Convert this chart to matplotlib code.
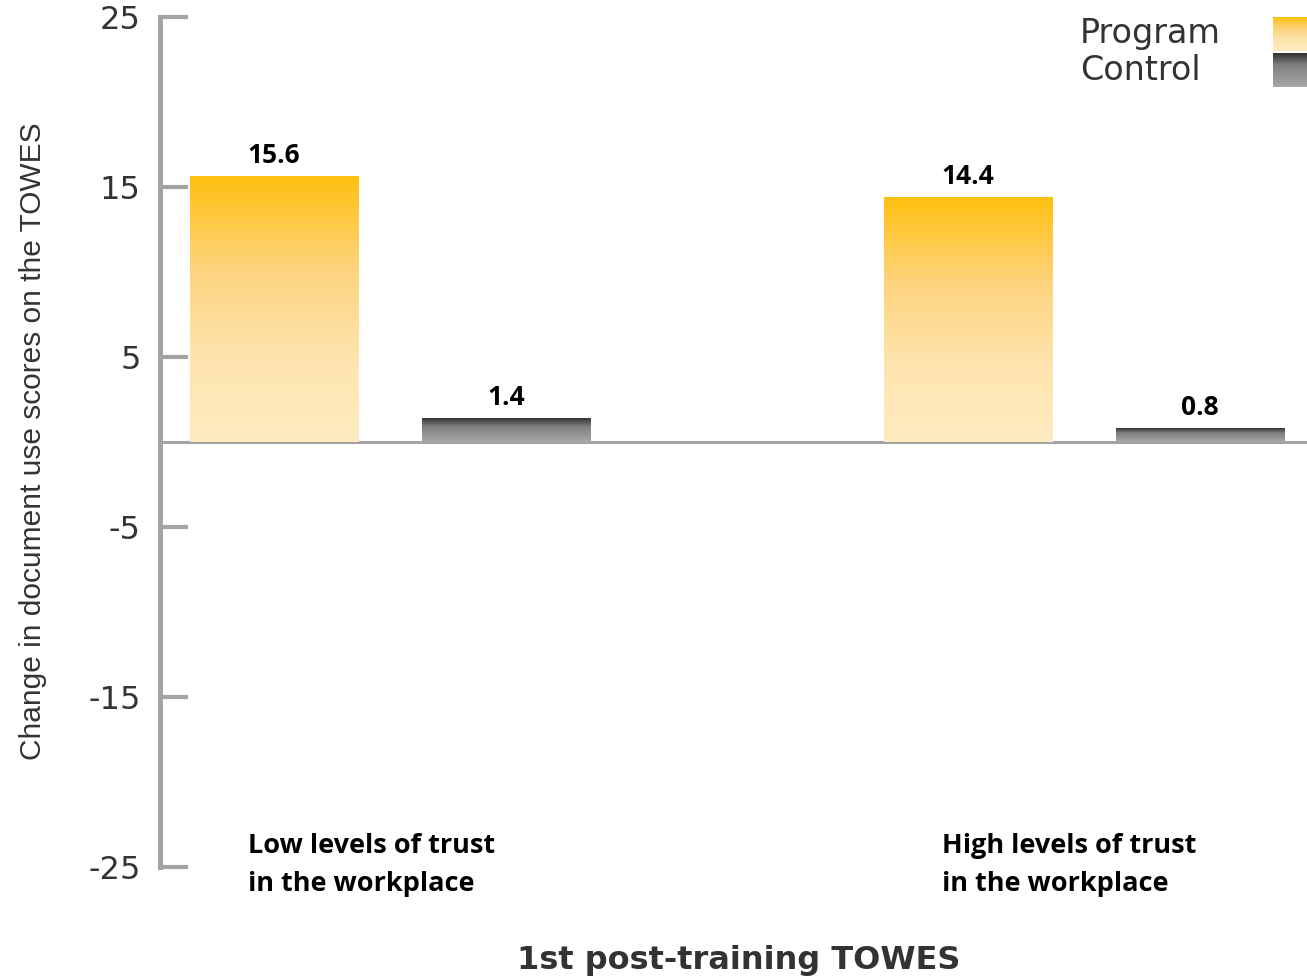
import numpy as np
import matplotlib
matplotlib.use("Agg")
import matplotlib.pyplot as plt
from matplotlib.colors import LinearSegmentedColormap

plt.rcParams["axes.unicode_minus"] = False

# ── Data ──────────────────────────────────────────────────────────────────────
GROUPS    = ["Low levels of trust\nin the workplace",
             "High levels of trust\nin the workplace"]
PROGRAM   = [15.6, 14.4]
CONTROL   = [1.4, 0.8]
SERIES    = ["Program", "Control"]
Y_TICKS   = [-25, -15, -5, 5, 15, 25]
Y_LABEL   = "Change in document use scores on the TOWES"
X_LABEL   = "1st post-training TOWES"

# ── Style ─────────────────────────────────────────────────────────────────────
AXIS_GRAY = "#a3a3a3"
TEXT_GRAY = "#333333"
BAR_W     = 0.242
OFFSET    = 0.167

program_cmap = LinearSegmentedColormap.from_list(
    "program", [(0.0, "#ffc010"), (0.35, "#fdd47e"), (0.7, "#fee5b0"), (1.0, "#ffebc0")])
control_cmap = LinearSegmentedColormap.from_list(
    "control", [(0.0, "#333333"), (0.35, "#7f7f7f"), (1.0, "#a8a8a8")])


def gradient_fill(ax, bar, cmap):
    # paint a vertical gradient inside the rectangle of a bar
    x0, w, h = bar.get_x(), bar.get_width(), bar.get_height()
    grad = np.linspace(0, 1, 256).reshape(-1, 1)
    ax.imshow(grad, extent=[x0, x0 + w, 0, h], origin="upper", cmap=cmap,
              aspect="auto", zorder=3, interpolation="bicubic")
    bar.set_visible(False)


fig = plt.figure(figsize=(13.07, 9.76), dpi=100)
ax = fig.add_axes([160 / 1307, 1 - 867 / 976, 1 - 160 / 1307, 850 / 976])

x = np.arange(len(GROUPS))
prog_bars = ax.bar(x - OFFSET, PROGRAM, BAR_W)
ctrl_bars = ax.bar(x + OFFSET, CONTROL, BAR_W)

for bar in prog_bars:
    gradient_fill(ax, bar, program_cmap)
for bar in ctrl_bars:
    gradient_fill(ax, bar, control_cmap)

# value labels
for bars, vals in ((prog_bars, PROGRAM), (ctrl_bars, CONTROL)):
    for bar, v in zip(bars, vals):
        ax.annotate(f"{v:.1f}", (bar.get_x() + bar.get_width() / 2, v),
                    textcoords="offset points", xytext=(0, 15),
                    ha="center", va="center", fontsize=19, fontweight="bold",
                    family="Open Sans", color="black")

# category labels under the bars
for xi, label in zip(x, GROUPS):
    ax.text(xi - 0.204, -23.0, label, ha="left", va="top", fontsize=19.5,
            fontweight="bold", family="Open Sans", color="black",
            linespacing=1.62)

ax.axhline(0, color=AXIS_GRAY, linewidth=2.2, zorder=2)

ax.set_xlim(-0.331, 1.321)
ax.set_ylim(-25, 25)
ax.set_yticks(Y_TICKS)
ax.set_xticks([])
for side in ("top", "right", "bottom"):
    ax.spines[side].set_visible(False)
ax.spines["left"].set_color(AXIS_GRAY)
ax.spines["left"].set_linewidth(3.6)
ax.tick_params(axis="y", direction="in", length=20, width=3, color=AXIS_GRAY,
               pad=14, labelsize=23, labelcolor=TEXT_GRAY)
for lab in ax.get_yticklabels():
    lab.set_family("DejaVu Sans")

fig.text(33 / 1307, 1 - 441 / 976, Y_LABEL, rotation=90, ha="center",
         va="center", fontsize=21.5, color=TEXT_GRAY, family="Liberation Sans")
fig.text(739 / 1307, 1 - 960 / 976, X_LABEL, ha="center", va="center",
         fontsize=23, fontweight="bold", color=TEXT_GRAY, family="DejaVu Sans")

# legend: text on the left, gradient swatches at the right edge
for i, (name, cmap) in enumerate(zip(SERIES, (program_cmap, control_cmap))):
    yc = 34 + i * 36
    fig.text(1080 / 1307, 1 - yc / 976, name, ha="left", va="center",
             fontsize=24, color=TEXT_GRAY, family="DejaVu Sans")
    sw = fig.add_axes([1273 / 1307, 1 - (yc + 17) / 976, 40 / 1307, 34 / 976])
    sw.imshow(np.linspace(0, 1, 64).reshape(-1, 1), cmap=cmap, aspect="auto")
    sw.axis("off")

fig.savefig("out.png", dpi=100)
